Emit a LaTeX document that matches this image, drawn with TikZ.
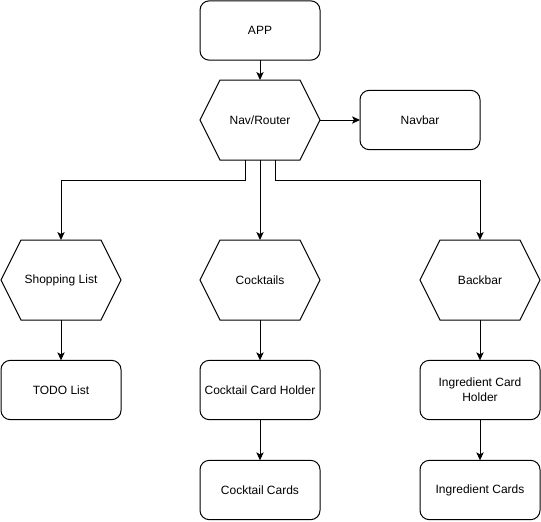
\documentclass[tikz,border=0pt]{standalone}
\usepackage{fontspec}
\setmainfont{Liberation Sans}
\usetikzlibrary{arrows.meta}
\begin{document}
\begin{tikzpicture}[x=0.75pt,y=-0.75pt,
  lbl/.style={font=\fontsize{9}{11}\selectfont, align=center},
  box/.style={lbl, draw, line width=0.75pt, rounded corners=7pt, minimum width=90pt, minimum height=44.5pt, inner sep=0pt, outer sep=0pt},
  hexnode/.style={lbl, minimum width=90pt, minimum height=60pt, inner sep=0pt, outer sep=0pt},
  hexline/.style={draw, line width=0.75pt, line join=miter},
  arr/.style={-{Stealth[length=6pt,width=5.5pt,inset=1.5pt]}, line width=0.75pt}]
\useasboundingbox (0,0) rectangle (541,521);
\newcommand\hexdraw[1]{%
  \draw[hexline] (#1.west) -- ([xshift=15pt]#1.north west) -- ([xshift=-15pt]#1.north east)
    -- (#1.east) -- ([xshift=-15pt]#1.south east) -- ([xshift=15pt]#1.south west) -- cycle;}
% nodes
\node[box] (app) at (260,30.5) {APP};
\node[hexnode] (nav) at (260,120) {Nav/Router}; \hexdraw{nav}
\node[box] (navbar) at (420,120) {Navbar};
\node[hexnode] (shop) at (61,280) {Shopping List}; \hexdraw{shop}
\node[hexnode] (cock) at (260,280) {Cocktails}; \hexdraw{cock}
\node[hexnode] (back) at (480,280) {Backbar}; \hexdraw{back}
\node[box] (todo) at (61,390) {TODO List};
\node[box] (cch) at (260,390) {Cocktail Card Holder};
\node[box] (ich) at (480,390) {Ingredient Card\\Holder};
\node[box] (cc) at (260,490) {Cocktail Cards};
\node[box] (ic) at (480,490) {Ingredient Cards};
% connectors
\draw[arr] (app.south) -- (nav.north);
\draw[arr] (nav.east) -- (navbar.west);
\draw[arr] ([xshift=-11.25pt]nav.south) -- ++(0,20) -| (shop.north);
\draw[arr] (nav.south) -- (cock.north);
\draw[arr] ([xshift=11.25pt]nav.south) -- ++(0,20) -| (back.north);
\draw[arr] (shop.south) -- (todo.north);
\draw[arr] (cock.south) -- (cch.north);
\draw[arr] (back.south) -- (ich.north);
\draw[arr] (cch.south) -- (cc.north);
\draw[arr] (ich.south) -- (ic.north);
\end{tikzpicture}
\end{document}
